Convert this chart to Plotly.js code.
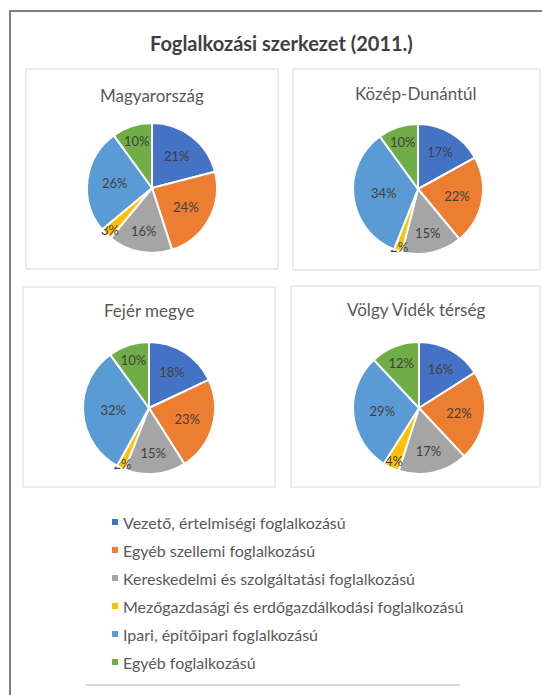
<!DOCTYPE html>
<html>
<head>
<meta charset="utf-8">
<script src="https://cdn.plot.ly/plotly-3.0.1.min.js"></script>
<style>
html,body{margin:0;padding:0;background:#fff;}
#chart{width:542px;height:695px;}
</style>
</head>
<body>
<div id="chart"></div>
<script>
// ---- data ----
const categories = [
  "Vezető, értelmiségi foglalkozású",
  "Egyéb szellemi foglalkozású",
  "Kereskedelmi és szolgáltatási foglalkozású",
  "Mezőgazdasági és erdőgazdálkodási foglalkozású",
  "Ipari, építőipari foglalkozású",
  "Egyéb foglalkozású"
];
const regions = ["Magyarország", "Közép-Dunántúl", "Fejér megye", "Völgy Vidék térség"];
const magyarorszag = [21, 24, 16, 3, 26, 10];
const kozepDunantul = [17, 22, 15, 2, 34, 10];
const fejerMegye = [18, 23, 15, 2, 32, 10];
const volgyVidek = [16, 22, 17, 4, 29, 12];
const colors = ["#4472C4", "#ED7D31", "#A5A5A5", "#FFC000", "#5B9BD5", "#70AD47"];
const chartTitle = "Foglalkozási szerkezet (2011.)";

// ---- layout helpers ----
const W = 542, H = 695;
const px = x => x / W;
const py = y => 1 - y / H;
const FONT = "Lato, 'Open Sans', sans-serif";

const seriesList = [magyarorszag, kozepDunantul, fejerMegye, volgyVidek];
// pie circle boxes in pixels [x0, x1, y0(top), y1(bottom)]
const pieBoxes = [
  [87, 217, 123, 253],
  [353, 483, 124, 254],
  [83, 215, 342, 474],
  [353, 485, 342, 474]
];
// panel frames in pixels
const panels = [
  [26, 278, 69, 269],
  [293, 540, 69, 270],
  [23, 275, 287, 487],
  [291, 540, 286, 487]
];
const titlePos = [[152, 96], [416, 93], [149, 310], [416, 309]];

const traces = seriesList.map((vals, i) => ({
  type: "pie",
  labels: categories,
  values: vals,
  sort: false,
  direction: "clockwise",
  rotation: 0,
  marker: {colors: colors, line: {color: "#ffffff", width: 2}},
  texttemplate: "%{value}%",
  textposition: "inside",
  insidetextorientation: "horizontal",
  textfont: {family: FONT, size: 13, color: "#404040"},
  hoverinfo: "label+value",
  showlegend: false,
  domain: {
    x: [px(pieBoxes[i][0]), px(pieBoxes[i][1])],
    y: [py(pieBoxes[i][3]), py(pieBoxes[i][2])]
  }
}));

const shapes = [];
// outer frame (top and left edges)
shapes.push({type: "line", xref: "paper", yref: "paper", x0: px(9), x1: 1, y0: py(11), y1: py(11), line: {color: "#7f7f7f", width: 2}});
shapes.push({type: "line", xref: "paper", yref: "paper", x0: px(10), x1: px(10), y0: py(11), y1: 0, line: {color: "#7f7f7f", width: 2}});
panels.forEach(p => shapes.push({
  type: "rect", xref: "paper", yref: "paper",
  x0: px(p[0]), x1: px(p[1]), y0: py(p[3]), y1: py(p[2]),
  line: {color: "#d9d9d9", width: 1}, fillcolor: "rgba(0,0,0,0)"
}));
// legend separator line
shapes.push({type: "line", xref: "paper", yref: "paper", x0: px(86), x1: px(460), y0: py(685), y1: py(685), line: {color: "#d9d9d9", width: 2}});

const annotations = [];
annotations.push({
  text: "<b>" + chartTitle + "</b>", xref: "paper", yref: "paper",
  x: px(282), y: py(43), xanchor: "center", yanchor: "middle", showarrow: false,
  font: {family: FONT, size: 20, color: "#404040"}
});
regions.forEach((r, i) => annotations.push({
  text: r, xref: "paper", yref: "paper",
  x: px(titlePos[i][0]), y: py(titlePos[i][1]), xanchor: "center", yanchor: "middle", showarrow: false,
  font: {family: FONT, size: 17, color: "#595959"}
}));
// legend
categories.forEach((c, i) => {
  const yc = 522 + i * 28;
  shapes.push({type: "rect", xref: "paper", yref: "paper",
    x0: px(112), x1: px(118), y0: py(yc + 3), y1: py(yc - 3),
    fillcolor: colors[i], line: {width: 0}});
  annotations.push({
    text: c, xref: "paper", yref: "paper",
    x: px(121), y: py(yc), xanchor: "left", yanchor: "middle", showarrow: false,
    font: {family: FONT, size: 16, color: "#595959"}
  });
});

const layout = {
  width: W, height: H,
  margin: {l: 0, r: 0, t: 0, b: 0},
  paper_bgcolor: "#ffffff",
  showlegend: false,
  uniformtext: {minsize: 13, mode: "show"},
  shapes: shapes,
  annotations: annotations
};

Plotly.newPlot("chart", traces, layout, {displayModeBar: false, staticPlot: true});
</script>
</body>
</html>
